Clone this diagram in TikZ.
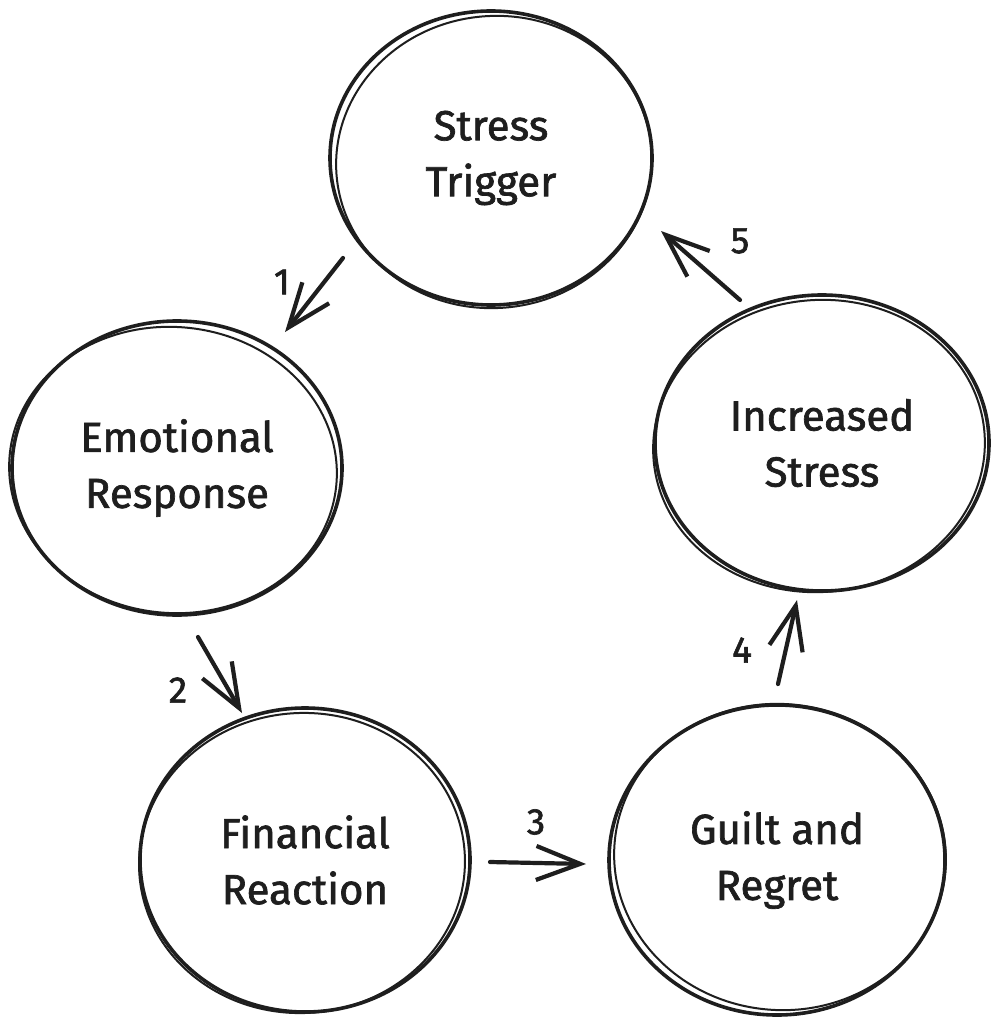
\documentclass[tikz,border=0pt]{standalone}
\usepackage{fontspec}
\setmainfont{Fira Sans}[FakeBold=1.6]
\usetikzlibrary{shapes.geometric,arrows.meta}
\definecolor{ink}{HTML}{1E1E1E}
\tikzset{
  stage/.style={ellipse,draw=ink,line width=3.6pt,inner sep=0pt,align=center,text=ink,
    font=\fontsize{42}{56}\selectfont},
  rim/.style={draw=ink,line width=2pt},
  flow/.style={draw=ink,line width=4.2pt,line cap=round,-{Straight Barb[length=44pt,width=34pt,line width=4.2pt]}},
  num/.style={text=ink,font=\fontsize{37}{38}\selectfont}
}
\begin{document}
\begin{tikzpicture}[x=1pt,y=-1pt]
    \useasboundingbox[fill=white] (0,0) rectangle (997,1024);
    \node[stage,minimum width=322pt,minimum height=294pt] (trig) at (491,158) {Stress\\Trigger};
    \node[stage,minimum width=330pt,minimum height=294pt] (emo) at (177,468) {Emotional\\Response};
    \node[stage,minimum width=330pt,minimum height=304pt] (fin) at (305,860) {Financial\\Reaction};
    \node[stage,minimum width=336pt,minimum height=310pt] (guilt) at (777,860) {Guilt and\\Regret};
    \node[stage,minimum width=334pt,minimum height=296pt] (inc) at (822,443) {Increased\\Stress};
    \draw[rim,rotate around={6:(494,162)}] (494,162) ellipse (158pt and 146pt);
    \draw[rim,rotate around={-5:(173,470)}] (173,470) ellipse (164pt and 143pt);
    \draw[rim,rotate around={4:(302,863)}] (302,863) ellipse (163pt and 150pt);
    \draw[rim,rotate around={-6:(780,857)}] (780,857) ellipse (166pt and 153pt);
    \draw[rim,rotate around={5:(819,446)}] (819,446) ellipse (166pt and 146pt);
    \coordinate (s1) at (343,258);
    \coordinate (e1) at (285,332);
    \coordinate (s2) at (198,637);
    \coordinate (e2) at (242,713);
    \coordinate (s3) at (490,862);
    \coordinate (e3) at (586,864);
    \coordinate (s4) at (778,684);
    \coordinate (e4) at (797,600);
    \coordinate (s5) at (740,300);
    \coordinate (e5) at (661,231);
    \draw[flow] (s1) -- (e1);
    \draw[flow] (s2) -- (e2);
    \draw[flow] (s3) -- (e3);
    \draw[flow] (s4) -- (e4);
    \draw[flow] (s5) -- (e5);
    \node[num] (n1) at (282,282) {1};
    \node[num] (n2) at (178,690) {2};
    \node[num] (n3) at (536,822) {3};
    \node[num] (n4) at (742,650) {4};
    \node[num] (n5) at (740,241) {5};
\end{tikzpicture}
\end{document}
